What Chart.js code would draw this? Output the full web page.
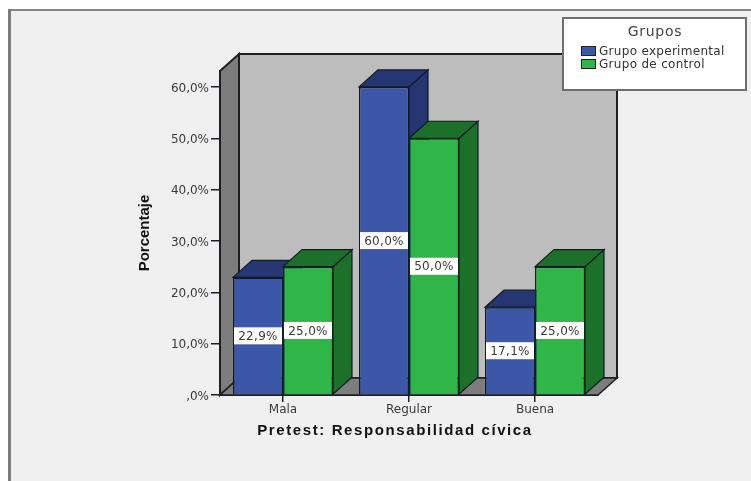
<!DOCTYPE html>
<html lang="es">
<head>
    <meta charset="UTF-8">
    <title>Pretest: Responsabilidad cívica</title>
    <script src="https://cdn.jsdelivr.net/npm/chart.js"></script>
    <style>
        html, body {
            margin: 0;
            padding: 0;
            background: #fff;
            overflow: hidden;
        }
        #wrap {
            position: relative;
            width: 751px;
            height: 481px;
        }
        #frame {
            position: absolute;
            left: 8px;
            top: 9px;
            right: 0;
            bottom: 0;
            background: #f0f0f0;
            border-left: 3px solid #7c7c7c;
            border-top: 2px solid #858585;
        }
        canvas {
            position: absolute;
            left: 0;
            top: 0;
        }
    </style>
</head>
<body>
<div id="wrap">
    <div id="frame"></div>
    <canvas id="chart" width="751" height="481"></canvas>
</div>
<script>
    const categories = ['Mala', 'Regular', 'Buena'];
    const experimental = [22.9, 60.0, 17.1];
    const control = [25.0, 50.0, 25.0];
    const seriesNames = ['Grupo experimental', 'Grupo de control'];
    const yTicks = [0, 10, 20, 30, 40, 50, 60];

    const yTop = 63.1;
    const dx = 19, dy = 17;
    const faceColors = ['#3d57a8', '#2fb548'];
    const topColors = ['#263673', '#1c7029'];
    const sideColors = ['#263673', '#1c7029'];
    const lineDark = '#1c2024';
    const font = 'DejaVu Sans';

    const fmt = v => (v === 0 ? ',0%' : v.toFixed(1).replace('.', ',') + '%');

    function poly(ctx, pts, fill, stroke, lw) {
        ctx.beginPath();
        pts.forEach((p, i) => i ? ctx.lineTo(p[0], p[1]) : ctx.moveTo(p[0], p[1]));
        ctx.closePath();
        ctx.fillStyle = fill;
        ctx.fill();
        ctx.strokeStyle = stroke;
        ctx.lineWidth = lw;
        ctx.stroke();
    }

    // caja 3D: paredes, caras superiores y laterales, etiquetas y leyenda
    const box3d = {
        id: 'box3d',
        beforeDatasetsDraw(chart) {
            const { ctx, chartArea: a } = chart;
            ctx.save();
            poly(ctx, [[a.left + dx, a.top - dy], [a.right + dx, a.top - dy], [a.right + dx, a.bottom - dy], [a.left + dx, a.bottom - dy]], '#bdbdbd', lineDark, 2);
            poly(ctx, [[a.left, a.top], [a.left + dx, a.top - dy], [a.left + dx, a.bottom - dy], [a.left, a.bottom]], '#7d7d7d', lineDark, 2);
            poly(ctx, [[a.left, a.bottom], [a.left + dx, a.bottom - dy], [a.right + dx, a.bottom - dy], [a.right, a.bottom]], '#7d7d7d', lineDark, 1.5);
            categories.forEach((c, i) => {
                chart.data.datasets.forEach((ds, d) => {
                    const b = chart.getDatasetMeta(d).data[i];
                    const l = b.x - b.width / 2, r = b.x + b.width / 2;
                    poly(ctx, [[r, b.y], [r + dx, b.y - dy], [r + dx, b.base - dy], [r, b.base]], sideColors[d], '#0c1a26', 1.2);
                    poly(ctx, [[l, b.y], [l + dx, b.y - dy], [r + dx, b.y - dy], [r, b.y]], topColors[d], '#0c1a26', 1.2);
                });
            });
            ctx.restore();
        },
        afterDatasetsDraw(chart) {
            const { ctx } = chart;
            ctx.save();
            ctx.font = '12px "' + font + '"';
            ctx.letterSpacing = '0.3px';
            ctx.textAlign = 'center';
            ctx.textBaseline = 'middle';
            chart.data.datasets.forEach((ds, d) => {
                chart.getDatasetMeta(d).data.forEach((b, i) => {
                    const my = (b.y + b.base) / 2;
                    ctx.fillStyle = '#fff';
                    ctx.fillRect(b.x - 24, my - 8.5, 48, 17);
                    ctx.fillStyle = '#3a3a3a';
                    ctx.fillText(fmt(ds.data[i]), b.x, my + 1);
                });
            });
            ctx.restore();
        },
        afterDraw(chart) {
            const { ctx } = chart;
            ctx.save();
            // titulo del eje X, va desplazado a la izquierda del centro
            ctx.fillStyle = '#111';
            ctx.textAlign = 'center';
            ctx.textBaseline = 'middle';
            ctx.font = 'bold 15px "Liberation Sans"';
            ctx.letterSpacing = '1.6px';
            ctx.fillText('Pretest: Responsabilidad cívica', 395, 431);

            // leyenda
            ctx.fillStyle = '#fff';
            ctx.strokeStyle = '#6e6e6e';
            ctx.lineWidth = 2;
            ctx.fillRect(563, 18, 183, 72);
            ctx.strokeRect(563, 18, 183, 72);
            ctx.fillStyle = '#444';
            ctx.font = '14px "' + font + '"';
            ctx.letterSpacing = '0.7px';
            ctx.fillText('Grupos', 655, 32);
            ctx.textAlign = 'left';
            ctx.font = '12px "' + font + '"';
            ctx.letterSpacing = '0.3px';
            chart.data.datasets.forEach((ds, d) => {
                const y = 46 + d * 13;
                ctx.fillStyle = faceColors[d];
                ctx.strokeStyle = '#222';
                ctx.lineWidth = 1;
                ctx.fillRect(581.5, y + 0.5, 14, 9);
                ctx.strokeRect(581.5, y + 0.5, 14, 9);
                ctx.fillStyle = '#333';
                ctx.fillText(ds.label, 599, y + 5.5);
            });
            ctx.restore();
        }
    };

    new Chart(document.getElementById('chart'), {
        type: 'bar',
        data: {
            labels: categories,
            datasets: [
                { label: seriesNames[0], data: experimental, backgroundColor: faceColors[0], borderColor: '#0c1a30', borderWidth: 1.5 },
                { label: seriesNames[1], data: control, backgroundColor: faceColors[1], borderColor: '#0c2a16', borderWidth: 1.5 }
            ]
        },
        plugins: [box3d],
        options: {
            responsive: false,
            animation: false,
            categoryPercentage: 100 / 126,
            barPercentage: 1,
            layout: { padding: { left: 136, right: 153, top: 71, bottom: 60 } },
            plugins: {
                legend: { display: false },
                tooltip: { enabled: false }
            },
            scales: {
                x: {
                    afterFit(s) { s.height = 26; },
                    grid: { offset: false, drawOnChartArea: false, drawTicks: true, tickLength: 7, color: lineDark, lineWidth: 1.5 },
                    border: { color: lineDark, width: 2 },
                    ticks: { color: '#3a3a3a', font: { family: font, size: 12 }, padding: 1, maxRotation: 0 }
                },
                y: {
                    min: 0,
                    max: yTop,
                    afterBuildTicks(s) { s.ticks = yTicks.map(v => ({ value: v })); },
                    afterFit(s) { s.width = 84; },
                    grid: { drawOnChartArea: false, tickLength: 9, color: lineDark, lineWidth: 1.5 },
                    border: { color: lineDark, width: 2 },
                    ticks: { color: '#3a3a3a', font: { family: font, size: 12 }, padding: 2, labelOffset: 1.5, callback: v => fmt(v) },
                    title: {
                        display: true,
                        text: 'Porcentaje',
                        color: '#111',
                        font: { family: 'Liberation Sans', size: 15, weight: 'bold' },
                        padding: 0
                    }
                }
            }
        }
    });
</script>
</body>
</html>
